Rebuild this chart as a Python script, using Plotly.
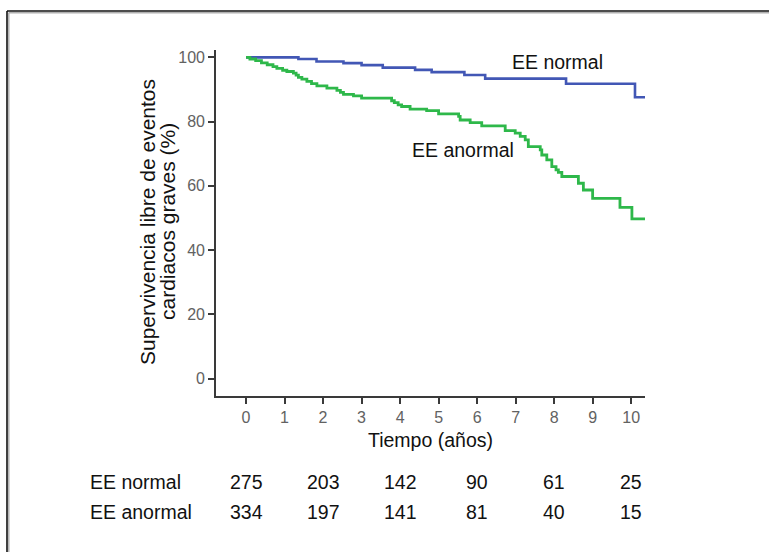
import plotly.graph_objects as go

# Kaplan-Meier survival steps: (time in years, survival % after the event)
normal_t = [0, 1.36, 1.83, 2.53, 3.0, 3.55, 4.39, 4.82, 5.67, 6.21, 8.31, 10.1, 10.36]
normal_s = [100, 99.5, 98.7, 98.2, 97.6, 96.8, 96.1, 95.4, 94.5, 93.4, 91.8, 87.6, 87.6]

anormal_t = [0, 0.1, 0.25, 0.4, 0.55, 0.7, 0.8, 0.95, 1.06, 1.23, 1.3, 1.36, 1.45,
             1.58, 1.7, 1.84, 2.1, 2.36, 2.45, 2.53, 2.79, 3.0, 3.78, 3.85, 3.95,
             4.04, 4.26, 4.69, 5.0, 5.52, 5.56, 5.82, 6.12, 6.73, 6.99, 7.12, 7.25,
             7.33, 7.64, 7.68, 7.81, 7.94, 8.05, 8.11, 8.2, 8.63, 8.76, 9.0, 9.71,
             10.02, 10.36]
anormal_s = [100, 99.5, 99.0, 98.3, 97.7, 97.1, 96.6, 96.0, 95.6, 95.1, 94.5, 93.8, 93.2,
             92.5, 91.8, 91.1, 90.4, 89.7, 89.1, 88.5, 88.0, 87.3, 86.5, 85.9, 85.2,
             84.7, 83.9, 83.4, 82.4, 81.6, 80.5, 79.7, 78.7, 77.2, 76.4, 75.4, 74.3,
             72.2, 71.2, 69.6, 68.1, 66.0, 65.0, 64.2, 62.9, 60.8, 58.7, 56.1, 53.3,
             49.7, 49.7]

# Number at risk table
risk_times = [0, 2, 4, 6, 8, 10]
risk_normal = [275, 203, 142, 90, 61, 25]
risk_anormal = [334, 197, 141, 81, 40, 15]

x_ticks = list(range(0, 11))
y_ticks = [0, 20, 40, 60, 80, 100]

FONT = "Liberation Sans, Arial, sans-serif"
AXIS_COLOR = "#3a3a3a"
TICK_FONT_COLOR = "#626262"
TEXT_SIZE = 19.5

W, H = 769, 552
L, R, T, B = 216, 645, 50, 396  # plot area in pixels


def px(x):
    return (x - L) / (R - L)


def py(y):
    return (B - y) / (B - T)


def label(x, y, text, xref="paper", yref="paper", xanchor="center", angle=0, size=TEXT_SIZE):
    return dict(x=x, y=y, xref=xref, yref=yref, text=text, showarrow=False,
                xanchor=xanchor, yanchor="middle", textangle=angle,
                font=dict(size=size, color="#111111", family=FONT))


fig = go.Figure()
fig.add_trace(go.Scatter(x=normal_t, y=normal_s, mode="lines", line_shape="hv",
                         line=dict(color="#4257b5", width=2.6), showlegend=False,
                         hoverinfo="skip"))
fig.add_trace(go.Scatter(x=anormal_t, y=anormal_s, mode="lines", line_shape="hv",
                         line=dict(color="#2eb84a", width=2.8), showlegend=False,
                         hoverinfo="skip"))

annotations = [
    label(8.08, 98.6, "EE normal", xref="x", yref="y"),
    label(5.64, 71.2, "EE anormal", xref="x", yref="y"),
    label(0.5, py(440), "Tiempo (años)"),
    label(px(147), py(222), "Supervivencia libre de eventos", angle=-90, size=21),
    label(px(167), py(222), "cardiacos graves (%)", angle=-90, size=21),
    label(px(88), py(482), "EE normal", xanchor="left"),
    label(px(88), py(512), "EE anormal", xanchor="left"),
]
for t, n_norm, n_anor in zip(risk_times, risk_normal, risk_anormal):
    annotations.append(label(t, py(482), str(n_norm), xref="x"))
    annotations.append(label(t, py(512), str(n_anor), xref="x"))

# Outer frame: dark line with a soft grey inner edge along top and left
shapes = [
    dict(type="line", xref="paper", yref="paper", x0=px(7), y0=py(560), x1=px(7), y1=py(11),
         line=dict(color="#111111", width=1.6)),
    dict(type="line", xref="paper", yref="paper", x0=px(7), y0=py(11), x1=px(780), y1=py(11),
         line=dict(color="#111111", width=1.6)),
    dict(type="line", xref="paper", yref="paper", x0=px(8.8), y0=py(560), x1=px(8.8), y1=py(12.8),
         line=dict(color="#b0b0b0", width=1.4)),
    dict(type="line", xref="paper", yref="paper", x0=px(8.8), y0=py(12.8), x1=px(780), y1=py(12.8),
         line=dict(color="#b0b0b0", width=1.4)),
]

fig.update_layout(
    width=W, height=H,
    margin=dict(l=L, r=W - R, t=T, b=H - B, pad=0),
    paper_bgcolor="white", plot_bgcolor="white",
    annotations=annotations, shapes=shapes,
    font=dict(family=FONT),
)
fig.update_xaxes(range=[-0.78, 10.36], tickvals=x_ticks, ticks="outside", ticklen=6,
                 tickwidth=1.5, tickcolor=AXIS_COLOR, showline=True, linecolor=AXIS_COLOR,
                 linewidth=1.6, showgrid=False, zeroline=False,
                 tickfont=dict(size=16, color=TICK_FONT_COLOR, family=FONT))
fig.update_yaxes(range=[-5.45, 102.3], tickvals=y_ticks, ticks="outside", ticklen=6,
                 tickwidth=1.5, tickcolor=AXIS_COLOR, showline=True, linecolor=AXIS_COLOR,
                 linewidth=1.6, showgrid=False, zeroline=False,
                 tickfont=dict(size=16, color=TICK_FONT_COLOR, family=FONT))

fig.write_html("out.html")
